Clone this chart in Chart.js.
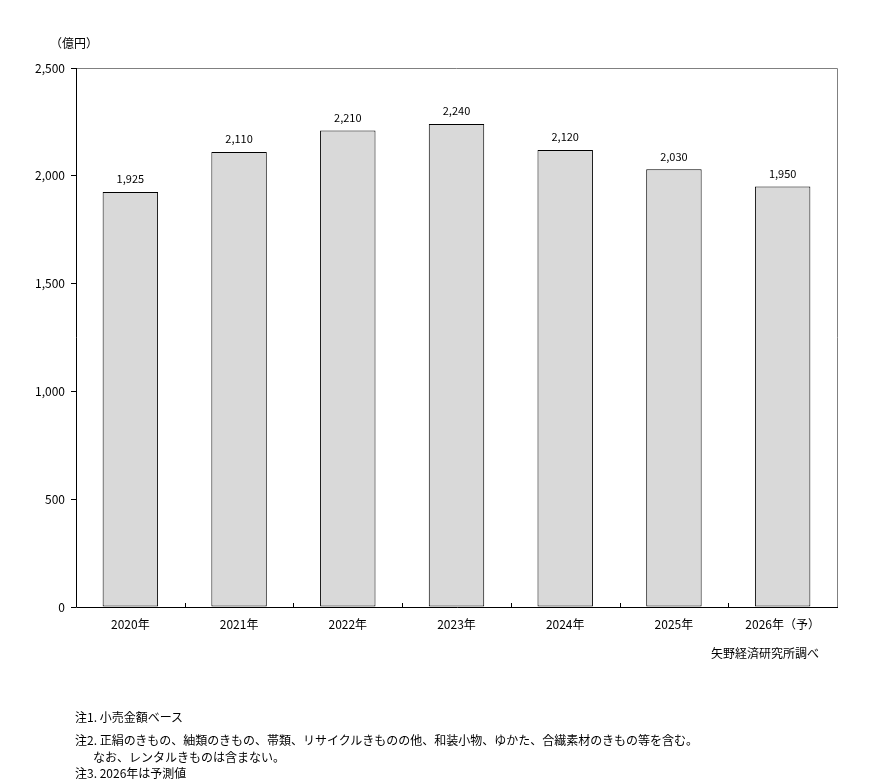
<!DOCTYPE html>
<html><head><meta charset="utf-8">
<script src="https://cdn.jsdelivr.net/npm/chart.js@4.4.1/dist/chart.umd.min.js"></script>
<style>
html,body{margin:0;padding:0;background:#fff;}
#wrap{position:relative;width:870px;height:782px;}
canvas{position:absolute;left:0;top:0;}
.t{position:absolute;font-family:"Noto Sans CJK JP",sans-serif;font-size:12px;color:#000;white-space:nowrap;line-height:16px;}
</style></head><body>
<div id="wrap">
<canvas id="c" width="870" height="782"></canvas>
<div class="t" style="left:50px;top:35px;">（億円）</div>
<div class="t" style="right:51px;top:645px;">矢野経済研究所調べ</div>
<div class="t" style="left:75px;top:709px;">注1. 小売金額ベース</div>
<div class="t" style="left:75px;top:732px;">注2. 正絹のきもの、紬類のきもの、帯類、リサイクルきものの他、和装小物、ゆかた、合繊素材のきもの等を含む。</div>
<div class="t" style="left:93px;top:749px;">なお、レンタルきものは含まない。</div>
<div class="t" style="left:75px;top:765px;">注3. 2026年は予測値</div>
</div>
<script>
const categories = ["2020年","2021年","2022年","2023年","2024年","2025年","2026年（予）"];
const values = [1925, 2110, 2210, 2240, 2120, 2030, 1950];
const yTicks = [0, 500, 1000, 1500, 2000, 2500];

const fmt = v => v.toLocaleString('en-US');
const FONT = '"Noto Sans CJK JP", sans-serif';

const framePlugin = {
  id: 'frame',
  beforeDatasetsDraw(chart) {
    const {ctx, chartArea: a} = chart;
    ctx.save();
    ctx.strokeStyle = '#808080';
    ctx.lineWidth = 1;
    ctx.beginPath();
    ctx.moveTo(a.left, a.top + 0.5);
    ctx.lineTo(a.right + 0.5, a.top + 0.5);
    ctx.lineTo(a.right + 0.5, a.bottom);
    ctx.stroke();
    ctx.restore();
  },
  afterDatasetsDraw(chart) {
    const {ctx, chartArea: a, scales} = chart;
    const xs = scales.x;
    ctx.save();
    // axes
    ctx.strokeStyle = '#000';
    ctx.lineWidth = 1;
    ctx.beginPath();
    ctx.moveTo(a.left + 0.5, a.top);
    ctx.lineTo(a.left + 0.5, a.bottom + 0.5);
    ctx.lineTo(a.right + 1, a.bottom + 0.5);
    ctx.stroke();
    // x ticks at category boundaries, pointing up
    for (let i = 1; i < categories.length; i++) {
      const x = Math.round((xs.getPixelForValue(i - 1) + xs.getPixelForValue(i)) / 2) + 0.5;
      ctx.beginPath();
      ctx.moveTo(x, a.bottom);
      ctx.lineTo(x, a.bottom - 4);
      ctx.stroke();
    }
    // data labels
    ctx.fillStyle = '#000';
    ctx.font = '11px ' + FONT;
    ctx.textAlign = 'center';
    ctx.textBaseline = 'middle';
    const meta = chart.getDatasetMeta(0);
    meta.data.forEach((bar, i) => {
      ctx.fillText(fmt(values[i]), bar.x, bar.y - 13);
    });
    ctx.restore();
  }
};

new Chart(document.getElementById('c'), {
  type: 'bar',
  data: {
    labels: categories,
    datasets: [{
      data: values,
      backgroundColor: '#d9d9d9',
      borderColor: '#000',
      borderWidth: 1,
      borderSkipped: false,
      categoryPercentage: 1,
      barPercentage: 0.51
    }]
  },
  options: {
    responsive: false,
    animation: false,
    devicePixelRatio: 1,
    layout: { padding: { left: 0, top: 68, right: 33, bottom: 145 } },
    plugins: { legend: { display: false }, tooltip: { enabled: false } },
    scales: {
      x: {
        grid: { display: false, drawTicks: false },
        border: { display: false },
        ticks: { color: '#000', font: { family: FONT, size: 12 }, padding: 10, maxRotation: 0, autoSkip: false },
        afterFit(s) { s.height = 30; }
      },
      y: {
        min: 0, max: 2500,
        afterBuildTicks(s) { s.ticks = yTicks.map(v => ({ value: v })); },
        grid: { drawOnChartArea: false, drawTicks: true, tickLength: 5, color: '#000' },
        border: { display: false },
        ticks: { color: '#000', font: { family: FONT, size: 12 }, padding: 6, callback: v => fmt(v) },
        afterFit(s) { s.width = 76; }
      }
    }
  },
  plugins: [framePlugin]
});
</script>
</body></html>
